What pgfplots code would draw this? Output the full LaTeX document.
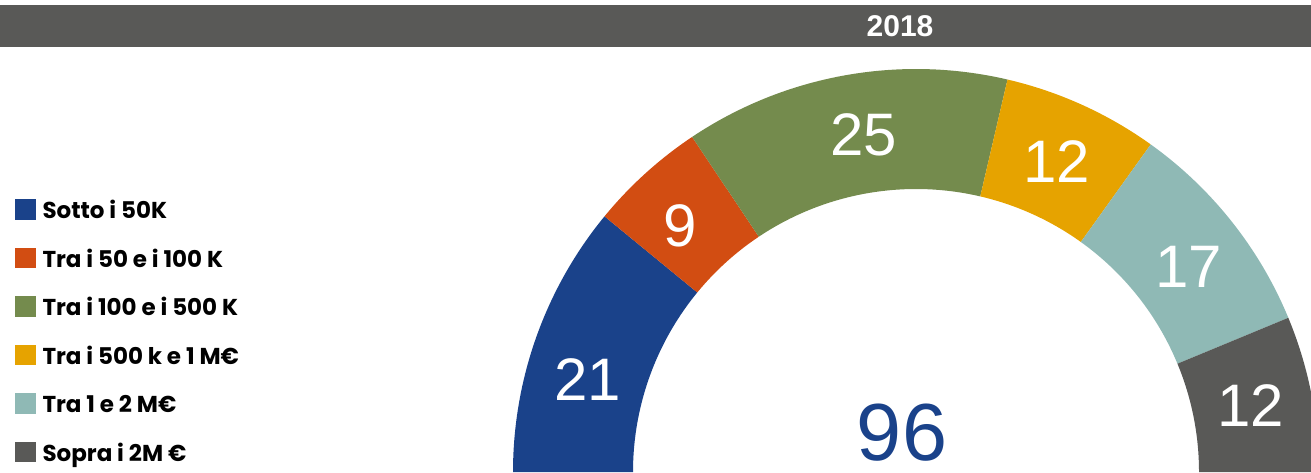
\documentclass[border=0pt]{standalone}
\usepackage{pgfplots}
\pgfplotsset{compat=1.18}
\usepackage{pgfplotstable}
\usepackage{fontspec}
\setmainfont{Liberation Sans}
\newfontfamily\legfont{Poppins}

\definecolor{cBlue}{HTML}{1A428A}
\definecolor{cOrange}{HTML}{D24D12}
\definecolor{cGreen}{HTML}{748B4D}
\definecolor{cYellow}{HTML}{E6A300}
\definecolor{cTeal}{HTML}{8FB9B5}
\definecolor{cGray}{HTML}{595957}

% fasce di importo, numero di progetti 2018 (dang = piccolo spostamento etichetta, gradi)
\pgfplotstableread[col sep=comma]{
label,value,color,dang
Sotto i 50K,21,cBlue,4
Tra i 50 e i 100 K,9,cOrange,1.5
Tra i 100 e i 500 K,25,cGreen,-1.5
Tra i 500 k e 1 M€,12,cYellow,0
Tra 1 e 2 M€,17,cTeal,-1.5
Sopra i 2M €,12,cGray,0
}\fasce

\newcommand\labfont{\fontsize{30}{30}\selectfont}
\def\cx{916}
\def\rout{403}
\def\rin{283}
\def\rlab{341}

\begin{document}
\begin{tikzpicture}
\pgfplotstablegetrowsof{\fasce}
\pgfmathtruncatemacro\nlast{\pgfplotsretval-1}
\def\tot{0}
\pgfplotsforeachungrouped \i in {0,...,\nlast}{%
  \pgfplotstablegetelem{\i}{value}\of\fasce
  \pgfmathtruncatemacro\tot{\tot+\pgfplotsretval}}
\pgfmathsetmacro\step{180/\tot}
\begin{axis}[
    x=0.5pt, y=0.5pt,
    xmin=0, xmax=1311, ymin=0, ymax=472,
    hide axis,
    legend cell align=left,
    legend image code/.code={\path[#1, draw=none] (0pt,-5pt) rectangle (10.25pt,5.25pt);},
    legend style={draw=none, fill=none, at={(axis cs:15,273)}, anchor=north west,
        inner sep=0pt, outer sep=0pt, row sep=14pt, column sep=3.5pt,
        font=\legfont\bfseries\fontsize{11.5}{12}\selectfont,
        nodes={inner sep=0pt, text depth=0pt}},
]
\fill[cGray] (axis cs:0,425) rectangle (axis cs:1311,467);
\node[white, inner sep=0pt, font=\bfseries\fontsize{15}{15}\selectfont] at (axis cs:900,446) {2018};

\def\cum{0}
\pgfplotsforeachungrouped \i in {0,...,\nlast}{%
  \pgfplotstablegetelem{\i}{value}\of\fasce \let\v\pgfplotsretval
  \pgfplotstablegetelem{\i}{color}\of\fasce \let\c\pgfplotsretval
  \pgfplotstablegetelem{\i}{label}\of\fasce \let\l\pgfplotsretval
  \pgfplotstablegetelem{\i}{dang}\of\fasce \let\d\pgfplotsretval
  \pgfmathsetmacro\a{180-\cum*\step}
  \pgfmathsetmacro\cum{\cum+\v}
  \pgfmathsetmacro\b{180-\cum*\step}
  \pgfmathsetmacro\m{(\a+\b)/2+\d}
  \pgfmathsetmacro\xa{\cx+\rout*cos(\a)}
  \pgfmathsetmacro\ya{\rout*sin(\a)}
  \pgfmathsetmacro\xb{\cx+\rin*cos(\b)}
  \pgfmathsetmacro\yb{\rin*sin(\b)}
  \pgfmathsetmacro\xm{\cx+\rlab*cos(\m)}
  \pgfmathsetmacro\ym{\rlab*sin(\m)}
  \edef\temp{%
    \noexpand\addlegendimage{fill=\c}
    \noexpand\addlegendentry{\l}
    \noexpand\fill[\c] (axis cs:\xa,\ya) arc[start angle=\a, end angle=\b, radius=\rout*0.5pt]
      -- (axis cs:\xb,\yb) arc[start angle=\b, end angle=\a, radius=\rin*0.5pt] -- cycle;
    \noexpand\node[white, inner sep=0pt, font=\noexpand\labfont] at (axis cs:\xm,\ym) {\v};
  }\temp
}
\node[cBlue, anchor=base, inner sep=0pt, font=\fontsize{40.5}{40}\selectfont] at (axis cs:902,12) {\tot};
\coordinate (bl) at (rel axis cs:0,0);
\coordinate (tr) at (rel axis cs:1,1);
\end{axis}
\pgfresetboundingbox
\path[use as bounding box] (bl) rectangle (tr);
\end{tikzpicture}
\end{document}
